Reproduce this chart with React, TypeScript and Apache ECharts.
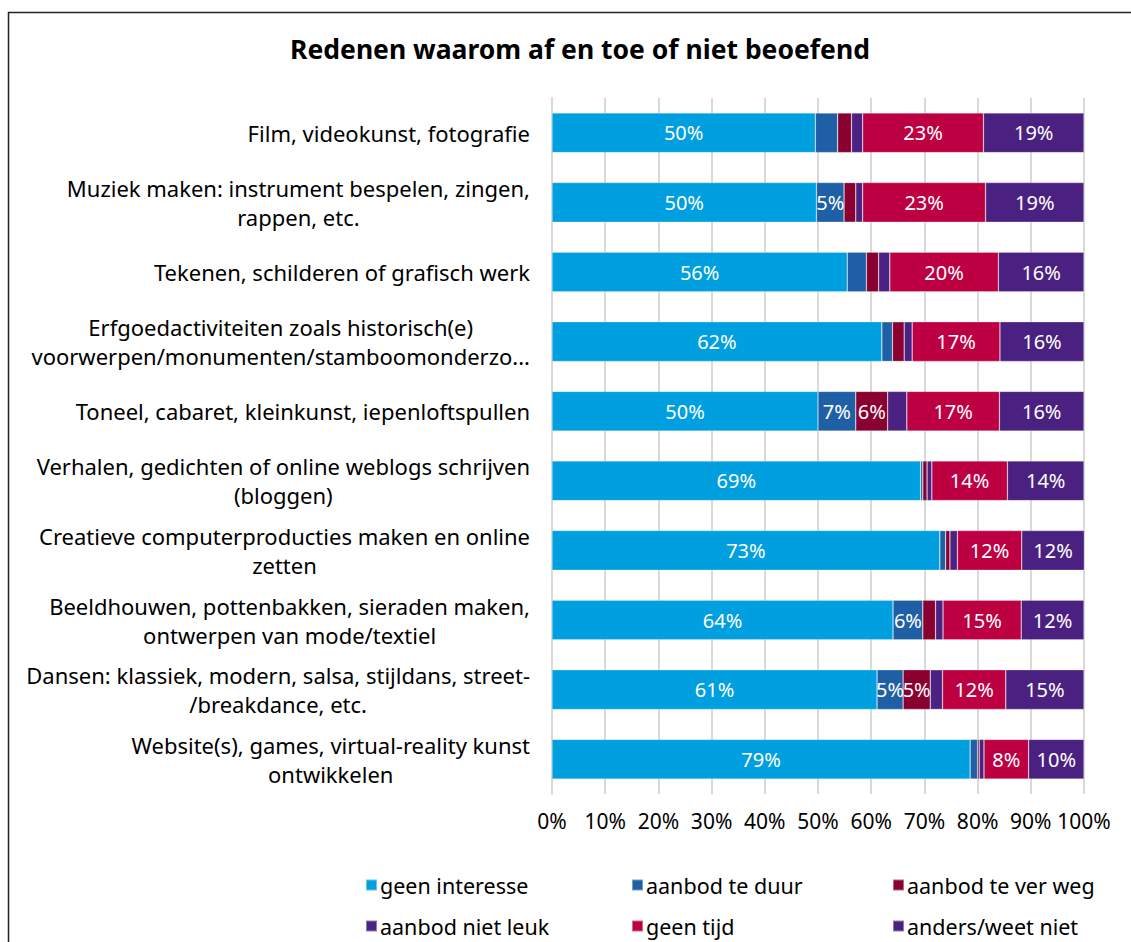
import React, { useEffect, useRef } from "react";
import * as echarts from "echarts";

const categories = [
  "Film, videokunst, fotografie",
  "Muziek maken: instrument bespelen, zingen,\nrappen, etc.",
  "Tekenen, schilderen of grafisch werk",
  "Erfgoedactiviteiten zoals historisch(e)\nvoorwerpen/monumenten/stamboomonderzo...",
  "Toneel, cabaret, kleinkunst, iepenloftspullen",
  "Verhalen, gedichten of online weblogs schrijven\n(bloggen)",
  "Creatieve computerproducties maken en online\nzetten",
  "Beeldhouwen, pottenbakken, sieraden maken,\nontwerpen van mode/textiel",
  "Dansen: klassiek, modern, salsa, stijldans, street-\n/breakdance, etc.",
  "Website(s), games, virtual-reality kunst\nontwikkelen",
];

const seriesNames = [
  "geen interesse",
  "aanbod te duur",
  "aanbod te ver weg",
  "aanbod niet leuk",
  "geen tijd",
  "anders/weet niet",
];

const geenInteresse = [49.5, 49.7, 55.5, 62.0, 50.0, 69.3, 72.9, 64.1, 61.1, 78.6];
const aanbodTeDuur = [4.2, 5.2, 3.6, 2.0, 7.1, 0.4, 1.1, 5.6, 4.9, 1.4];
const aanbodTeVerWeg = [2.6, 2.2, 2.3, 2.2, 6.0, 0.8, 0.8, 2.4, 5.1, 0.3];
const aanbodNietLeuk = [2.1, 1.3, 2.1, 1.5, 3.6, 0.9, 1.4, 1.4, 2.3, 0.9];
const geenTijd = [22.7, 23.1, 20.4, 16.5, 17.4, 14.2, 12.1, 14.7, 11.9, 8.4];
const andersWeetNiet = [18.9, 18.5, 16.1, 15.8, 15.9, 14.4, 11.8, 11.8, 14.7, 10.4];

const seriesData = [geenInteresse, aanbodTeDuur, aanbodTeVerWeg, aanbodNietLeuk, geenTijd, andersWeetNiet];
const colors = ["#009FDF", "#1F5FA6", "#8A0030", "#4B2283", "#BC0042", "#4A2180"];

const FONT = "Noto Sans";

export default function App() {
  const ref = useRef<HTMLDivElement>(null);
  useEffect(() => {
    if (!ref.current) return;
    const chart = echarts.init(ref.current, undefined, { renderer: "svg" });
    const legendPos = [
      [360, 869],
      [626, 869],
      [887, 869],
      [360, 910],
      [626, 910],
      [887, 910],
    ];
    chart.setOption({
      animation: false,
      backgroundColor: "#ffffff",
      textStyle: { fontFamily: FONT },
      title: {
        text: "Redenen waarom af en toe of niet beoefend",
        left: 575,
        textAlign: "center",
        top: 30,
        textStyle: { fontFamily: FONT, fontSize: 26.5, fontWeight: "bold", color: "#000" },
      },
      legend: seriesNames.map((n, i) => ({
        data: [n],
        left: legendPos[i][0],
        top: legendPos[i][1],
        itemWidth: 11,
        itemHeight: 11,
        itemGap: 4,
        icon: "rect",
        selectedMode: false,
        textStyle: { fontFamily: FONT, fontSize: 21.5, color: "#000", padding: [0, 0, 0, -2] },
      })),
      grid: { left: 552, right: 47, top: 98, bottom: 148, containLabel: false },
      xAxis: {
        type: "value",
        min: 0,
        max: 100,
        interval: 10,
        axisLabel: {
          formatter: "{value}%",
          fontFamily: FONT,
          fontSize: 21,
          color: "#000",
          margin: 16,
        },
        splitLine: { show: true, lineStyle: { color: "#D9D9D9", width: 2 } },
        axisLine: { show: false },
        axisTick: { show: false },
      },
      yAxis: {
        type: "category",
        data: categories,
        inverse: true,
        axisLine: { show: true, lineStyle: { color: "#D9D9D9", width: 2 } },
        axisTick: { show: false },
        axisLabel: {
          fontFamily: FONT,
          fontSize: 22,
          color: "#000",
          margin: 22,
          lineHeight: 29,
          align: "right",
          formatter: (v: string) =>
            v
              .split("\n")
              .map((l) => "{c|" + l + "}")
              .join("\n"),
          rich: {
            c: { align: "center", fontFamily: FONT, fontSize: 22, color: "#000", lineHeight: 29 },
          },
        },
      },
      graphic: [
        {
          type: "rect",
          shape: { x: 8.5, y: 12.5, width: 1130, height: 940 },
          style: { fill: "none", stroke: "#222", lineWidth: 1.5 },
          silent: true,
        },
      ],
      series: seriesNames.map((n, i) => ({
        name: n,
        type: "bar",
        stack: "total",
        barWidth: "57%",
        data: seriesData[i],
        itemStyle: { color: colors[i], borderColor: "rgba(255,255,255,0.4)", borderWidth: 0.6 },
        label: {
          show: true,
          position: "inside",
          color: "#fff",
          fontFamily: FONT,
          fontSize: 20,
          formatter: (p: any) => (p.value >= 4.5 ? Math.round(p.value) + "%" : ""),
        },
      })),
    });
    return () => chart.dispose();
  }, []);
  return (
    <div
      ref={ref}
      style={{ position: "fixed", left: 0, top: 0, width: 1131, height: 942, background: "#fff" }}
    />
  );
}
